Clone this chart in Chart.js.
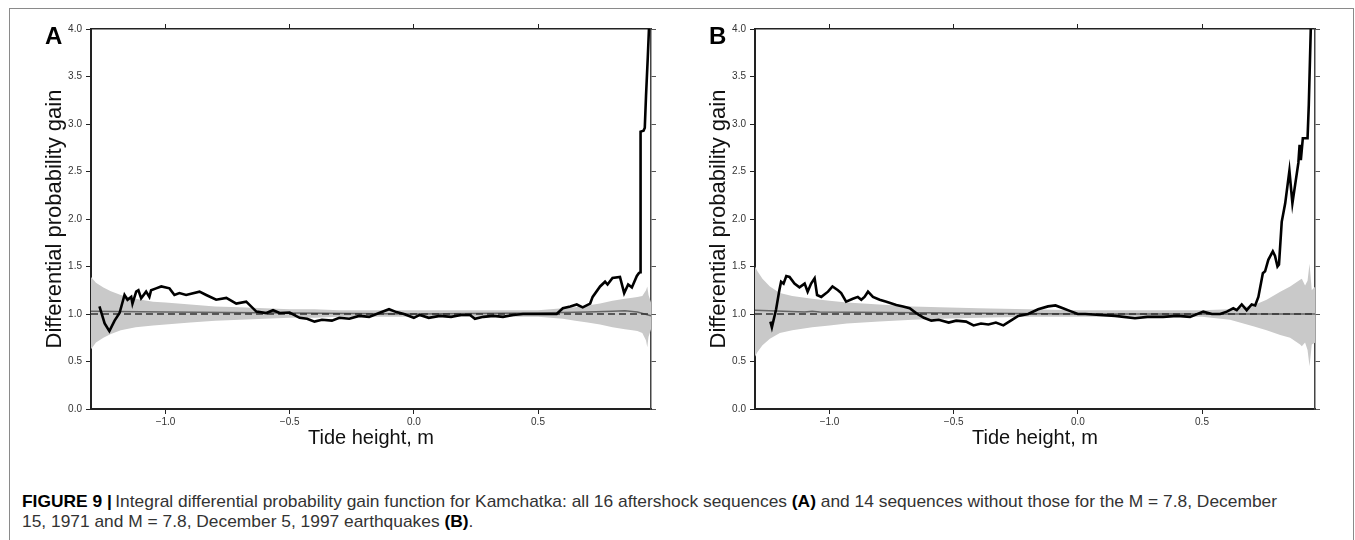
<!DOCTYPE html>
<html>
<head>
<meta charset="utf-8">
<script src="https://cdn.jsdelivr.net/npm/chart.js@4.4.1/dist/chart.umd.min.js"></script>
<style>
  body { margin: 0; background: #fff; width: 1355px; height: 540px; overflow: hidden; position: relative; font-family: 'Liberation Sans', Arial, sans-serif; }
  #frame { position: absolute; left: 9px; top: 8px; width: 1343px; height: 600px; border: 1px solid #8a8a8a; }
  canvas { position: absolute; top: 0; }
  .panel { position: absolute; top: 24px; font-weight: bold; font-size: 24px; line-height: 24px; color: #000; }
  #caption { position: absolute; left: 22px; top: 492px; font-family: 'Liberation Sans', Arial, sans-serif; font-size: 17px; line-height: 20px; color: #333; white-space: nowrap; }
  #caption .ln { transform-origin: 0 0; width: max-content; }
  #caption b { color: #000; }
</style>
</head>
<body>
<div id="frame"></div>
<canvas id="chartA" width="680" height="460" style="left:0px"></canvas>
<canvas id="chartB" width="680" height="460" style="left:664px"></canvas>
<div class="panel" style="left:45px">A</div>
<div class="panel" style="left:709px">B</div>
<div id="caption">
  <div class="ln" id="l1"><b>FIGURE 9 |</b>&thinsp;Integral differential probability gain function for Kamchatka: all 16 aftershock sequences <b>(A)</b> and 14 sequences without those for the M = 7.8, December</div>
  <div class="ln" id="l2">15, 1971 and M = 7.8, December 5, 1997 earthquakes <b>(B)</b>.</div>
</div>
<script>
// axis ticks
const xTicks = [-1.0, -0.5, 0.0, 0.5];
const yTicks = [0, 0.5, 1, 1.5, 2, 2.5, 3, 3.5, 4];
const xMin = -1.30, xMax = 0.955;

// panel A: confidence band
const bandXA = [-1.30, -1.28, -1.25, -1.22, -1.18, -1.12, -1.05, -1.0, -0.9, -0.8, -0.7, -0.6, -0.5, -0.4, -0.3, -0.2, -0.1, 0.0, 0.1, 0.2, 0.3, 0.4, 0.5, 0.55, 0.6, 0.65, 0.7, 0.75, 0.8, 0.85, 0.88, 0.9, 0.92, 0.935, 0.94, 0.945, 0.955];
const upperA = [1.39, 1.33, 1.28, 1.24, 1.20, 1.16, 1.13, 1.12, 1.10, 1.08, 1.07, 1.06, 1.05, 1.05, 1.04, 1.04, 1.04, 1.04, 1.04, 1.04, 1.04, 1.04, 1.04, 1.05, 1.06, 1.07, 1.09, 1.11, 1.14, 1.16, 1.17, 1.18, 1.19, 1.25, 1.29, 1.20, 1.12];
const lowerA = [0.63, 0.70, 0.75, 0.79, 0.83, 0.86, 0.88, 0.89, 0.91, 0.93, 0.94, 0.95, 0.96, 0.96, 0.97, 0.97, 0.97, 0.97, 0.97, 0.97, 0.97, 0.97, 0.97, 0.96, 0.95, 0.93, 0.91, 0.89, 0.86, 0.84, 0.83, 0.82, 0.80, 0.72, 0.65, 0.76, 0.84];
// panel A: mean of random catalogues
const meanXA = [-1.30, -1.0, -0.5, 0.0, 0.5, 0.7, 0.8, 0.85, 0.9, 0.955];
const meanA = [1.03, 1.02, 1.01, 1.0, 1.01, 1.02, 1.03, 1.035, 1.02, 0.98];
// panel A: observed gain
const obsXA = [-1.266, -1.245, -1.226, -1.205, -1.185, -1.165, -1.153, -1.138, -1.133, -1.118, -1.109, -1.098, -1.078, -1.065, -1.058, -1.038, -1.017, -0.984, -0.964, -0.944, -0.917, -0.863, -0.836, -0.796, -0.755, -0.715, -0.675, -0.634, -0.594, -0.567, -0.54, -0.5, -0.46, -0.43, -0.40, -0.37, -0.33, -0.30, -0.26, -0.22, -0.18, -0.14, -0.10, -0.07, -0.04, 0.0, 0.024, 0.06, 0.105, 0.15, 0.19, 0.226, 0.246, 0.28, 0.32, 0.359, 0.40, 0.44, 0.495, 0.54, 0.575, 0.60, 0.63, 0.656, 0.68, 0.71, 0.72, 0.75, 0.77, 0.78, 0.80, 0.83, 0.847, 0.863, 0.878, 0.898, 0.906, 0.911, 0.913, 0.925, 0.93, 0.935, 0.942, 0.95];
const obsA = [1.08, 0.90, 0.82, 0.93, 1.01, 1.20, 1.15, 1.18, 1.11, 1.235, 1.25, 1.165, 1.235, 1.18, 1.25, 1.27, 1.29, 1.27, 1.20, 1.22, 1.20, 1.235, 1.20, 1.15, 1.17, 1.11, 1.13, 1.025, 1.01, 1.04, 1.01, 1.015, 0.96, 0.95, 0.92, 0.94, 0.93, 0.96, 0.95, 0.98, 0.97, 1.01, 1.05, 1.02, 1.0, 0.96, 0.99, 0.96, 0.98, 0.97, 0.99, 0.99, 0.95, 0.97, 0.98, 0.97, 0.99, 1.0, 1.0, 1.0, 1.0, 1.06, 1.08, 1.10, 1.07, 1.11, 1.18, 1.29, 1.34, 1.31, 1.38, 1.39, 1.22, 1.31, 1.28, 1.40, 1.43, 1.44, 2.92, 2.93, 2.96, 3.3, 3.7, 4.2];

// panel B: confidence band
const bandXB = [-1.31, -1.29, -1.27, -1.24, -1.2, -1.15, -1.07, -1.0, -0.93, -0.8, -0.665, -0.556, -0.4, -0.2, 0.0, 0.2, 0.4, 0.5, 0.613, 0.706, 0.76, 0.815, 0.855, 0.895, 0.902, 0.915, 0.925, 0.933, 0.942, 0.956];
const upperB = [1.55, 1.45, 1.37, 1.29, 1.22, 1.19, 1.16, 1.14, 1.12, 1.10, 1.08, 1.07, 1.06, 1.05, 1.04, 1.04, 1.04, 1.04, 1.05, 1.09, 1.15, 1.235, 1.29, 1.36, 1.37, 1.30, 1.35, 1.53, 1.25, 1.29];
const lowerB = [0.50, 0.60, 0.67, 0.74, 0.80, 0.83, 0.86, 0.88, 0.90, 0.92, 0.94, 0.95, 0.96, 0.97, 0.97, 0.97, 0.97, 0.97, 0.94, 0.87, 0.83, 0.78, 0.75, 0.68, 0.66, 0.70, 0.62, 0.45, 0.68, 0.70];
// panel B: mean of random catalogues
const meanXB = [-1.31, -1.1, -1.07, -1.04, -0.5, 0.0, 0.5, 0.956];
const meanB = [1.04, 1.02, 1.03, 1.02, 1.01, 1.0, 1.0, 1.0];
// panel B: observed gain
const obsXB = [-1.238, -1.232, -1.215, -1.202, -1.195, -1.185, -1.174, -1.161, -1.141, -1.121, -1.1, -1.088, -1.074, -1.06, -1.05, -1.033, -1.006, -0.988, -0.966, -0.953, -0.933, -0.906, -0.886, -0.872, -0.859, -0.845, -0.825, -0.798, -0.771, -0.731, -0.704, -0.677, -0.651, -0.62, -0.59, -0.56, -0.52, -0.49, -0.45, -0.42, -0.39, -0.36, -0.33, -0.30, -0.27, -0.24, -0.2, -0.16, -0.12, -0.09, -0.06, -0.03, 0.0, 0.03, 0.089, 0.15, 0.23, 0.28, 0.343, 0.40, 0.452, 0.505, 0.54, 0.573, 0.60, 0.626, 0.64, 0.66, 0.68, 0.70, 0.714, 0.727, 0.745, 0.754, 0.767, 0.785, 0.794, 0.804, 0.81, 0.821, 0.835, 0.852, 0.864, 0.888, 0.893, 0.898, 0.906, 0.925, 0.93, 0.94];
const obsB = [0.92, 0.86, 1.05, 1.25, 1.34, 1.32, 1.40, 1.39, 1.32, 1.28, 1.32, 1.235, 1.32, 1.375, 1.20, 1.18, 1.235, 1.29, 1.25, 1.22, 1.13, 1.16, 1.18, 1.15, 1.18, 1.235, 1.18, 1.15, 1.13, 1.095, 1.08, 1.06, 1.01, 0.96, 0.93, 0.94, 0.91, 0.93, 0.92, 0.88, 0.90, 0.89, 0.91, 0.88, 0.93, 0.98, 1.0, 1.05, 1.08, 1.09, 1.06, 1.03, 1.0, 1.0, 0.99, 0.98, 0.955, 0.97, 0.97, 0.98, 0.97, 1.025, 1.0, 1.0, 1.025, 1.06, 1.04, 1.10, 1.04, 1.10, 1.09, 1.18, 1.43, 1.45, 1.57, 1.66, 1.61, 1.50, 1.52, 1.97, 2.165, 2.51, 2.165, 2.59, 2.78, 2.62, 2.85, 2.85, 3.2, 4.2];

Chart.defaults.font.family = "'Liberation Sans', Arial, sans-serif";

const pts = (xs, ys) => xs.map((x, i) => ({ x: x, y: ys[i] }));
const fmt = v => v.toFixed(1).replace('-', '\u2212');

function makePanel(id, bandX, upper, lower, meanX, mean, obsX, obs) {
  const axisColor = '#222';
  new Chart(document.getElementById(id), {
    type: 'line',
    data: {
      datasets: [
        { data: pts(obsX, obs), borderColor: '#000', borderWidth: 2.6, pointRadius: 0, tension: 0 },
        { data: [{ x: xMin, y: 1 }, { x: xMax, y: 1 }], borderColor: '#333', borderWidth: 1.4, borderDash: [7, 4], pointRadius: 0 },
        { data: pts(meanX, mean), borderColor: '#666', borderWidth: 1.5, pointRadius: 0 },
        { data: pts(bandX, upper), borderWidth: 0, pointRadius: 0, backgroundColor: '#c9c9c9', fill: '+1' },
        { data: pts(bandX, lower), borderWidth: 0, pointRadius: 0, fill: false }
      ]
    },
    options: {
      responsive: false,
      animation: false,
      devicePixelRatio: 1,
      layout: { padding: { left: 0, top: 19, right: 19, bottom: 0 } },
      plugins: { legend: { display: false }, tooltip: { enabled: false } },
      scales: {
        x: {
          type: 'linear', position: 'bottom', min: xMin, max: xMax,
          afterBuildTicks: s => { s.ticks = xTicks.map(v => ({ value: v })); },
          afterFit: s => { s.height = 51; },
          ticks: { font: { size: 10 }, color: '#333', padding: 2, maxRotation: 0, callback: v => fmt(v) },
          grid: { drawOnChartArea: false, tickLength: 5, color: axisColor },
          border: { color: axisColor, width: 2 },
          title: { display: true, text: 'Tide height, m', font: { size: 20 }, color: '#111', padding: { top: 0, bottom: 10 } }
        },
        y: {
          position: 'left', min: 0, max: 4,
          afterBuildTicks: s => { s.ticks = yTicks.map(v => ({ value: v })); },
          afterFit: s => { s.width = 91; },
          ticks: { font: { size: 10 }, color: '#333', padding: 4, callback: v => fmt(v) },
          grid: { drawOnChartArea: false, tickLength: 5, color: axisColor },
          border: { color: axisColor, width: 2 },
          title: { display: true, text: 'Differential probability gain', font: { size: 22 }, color: '#111', padding: { top: 42, bottom: 0 } }
        },
        x2: {
          type: 'linear', position: 'top', min: xMin, max: xMax,
          afterBuildTicks: s => { s.ticks = xTicks.map(v => ({ value: v })); },
          afterFit: s => { s.height = 10; },
          ticks: { display: false },
          grid: { drawOnChartArea: false, tickLength: 5, color: axisColor },
          border: { color: axisColor, width: 1.5 }
        },
        y2: {
          position: 'right', min: 0, max: 4,
          afterBuildTicks: s => { s.ticks = yTicks.map(v => ({ value: v })); },
          afterFit: s => { s.width = 10; },
          ticks: { display: false },
          grid: { drawOnChartArea: false, tickLength: 5, color: '#555' },
          border: { color: '#444', width: 1.5 }
        }
      }
    }
  });
}

makePanel('chartA', bandXA, upperA, lowerA, meanXA, meanA, obsXA, obsA);
makePanel('chartB', bandXB, upperB, lowerB, meanXB, meanB, obsXB, obsB);

// squeeze the caption to the width of the original condensed type
const l1 = document.getElementById('l1');
const l2 = document.getElementById('l2');
const k = 1255 / l1.getBoundingClientRect().width;
l1.style.transform = 'scaleX(' + k + ')';
l2.style.transform = 'scaleX(' + k + ')';
</script>
</body>
</html>
